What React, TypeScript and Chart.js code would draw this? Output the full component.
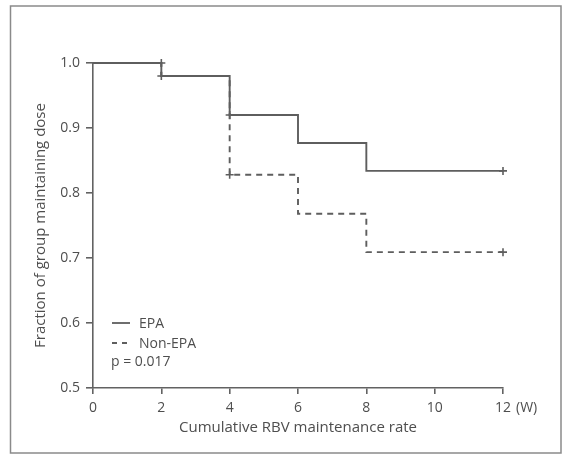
import React, { useEffect, useRef } from "react";
import { Chart, registerables } from "chart.js";

Chart.register(...registerables);

// ---- data ----
const weeks = [0, 2, 4, 6, 8, 12];
const epaValues = [1.0, 0.98, 0.92, 0.877, 0.834, 0.834];
const nonEpaValues = [1.0, 0.98, 0.828, 0.768, 0.709, 0.709];
const epaCensorWeeks = [2, 4, 12];
const epaCensorValues = [1.0, 0.92, 0.834];
const nonEpaCensorWeeks = [2, 4, 12];
const nonEpaCensorValues = [0.98, 0.828, 0.709];
const seriesLabels = ["EPA", "Non-EPA"];
const pValueText = "p = 0.017";
const xTitle = "Cumulative RBV maintenance rate";
const yTitle = "Fraction of group maintaining dose";
const xUnit = "(W)";

const FONT = "'Open Sans', 'Noto Sans', sans-serif";
const TEXT = "#4e4e4e";
const LINE = "#5e5e5e";
const AXIS = "#626262";

const pts = (xs: number[], ys: number[]) => xs.map((x, i) => ({ x, y: ys[i] }));

const extrasPlugin = {
  id: "extras",
  beforeDraw(chart: any) {
    const ctx = chart.ctx;
    ctx.save();
    ctx.fillStyle = "#ffffff";
    ctx.fillRect(0, 0, chart.width, chart.height);
    ctx.strokeStyle = "#8a8a8a";
    ctx.lineWidth = 1.5;
    ctx.strokeRect(10.5, 6, 550.5, 447);
    ctx.restore();
  },
  afterDraw(chart: any) {
    const ctx = chart.ctx;
    const xs = chart.scales.x;
    ctx.save();
    ctx.font = `14px ${FONT}`;
    ctx.fillStyle = TEXT;
    ctx.textBaseline = "middle";
    ctx.textAlign = "left";
    const px12 = xs.getPixelForValue(12);
    const w12 = ctx.measureText("12").width;
    ctx.fillText(xUnit, px12 + w12 / 2 + 5, 408);

    // legend
    const lx0 = 112;
    const lx1 = 130;
    const tx = 139;
    const rows = [323, 343];
    ctx.strokeStyle = LINE;
    ctx.lineWidth = 1.8;
    ctx.beginPath();
    ctx.setLineDash([]);
    ctx.moveTo(lx0, rows[0]);
    ctx.lineTo(lx1, rows[0]);
    ctx.stroke();
    ctx.beginPath();
    ctx.setLineDash([5, 5]);
    ctx.moveTo(lx0, rows[1]);
    ctx.lineTo(lx1 + 1, rows[1]);
    ctx.stroke();
    ctx.setLineDash([]);
    ctx.font = `14px ${FONT}`;
    ctx.fillStyle = TEXT;
    ctx.fillText(seriesLabels[0], tx, rows[0] + 1);
    ctx.fillText(seriesLabels[1], tx, rows[1] + 1);
    ctx.fillText(pValueText, 111, 362);
    ctx.restore();
  },
};

export default function App() {
  const ref = useRef<HTMLCanvasElement | null>(null);
  useEffect(() => {
    if (!ref.current) return;
    const chart = new Chart(ref.current, {
      type: "scatter",
      data: {
        datasets: [
          {
            label: seriesLabels[1],
            data: pts(weeks, nonEpaValues),
            showLine: true,
            stepped: true,
            borderColor: LINE,
            borderWidth: 1.9,
            borderDash: [6, 5],
            pointRadius: 0,
            clip: false,
          },
          {
            label: seriesLabels[0],
            data: pts(weeks, epaValues),
            showLine: true,
            stepped: true,
            borderColor: LINE,
            borderWidth: 1.9,
            pointRadius: 0,
            clip: false,
          },
          {
            label: "EPA censored",
            data: pts(epaCensorWeeks, epaCensorValues),
            showLine: false,
            pointStyle: "cross",
            pointRadius: 4,
            borderColor: LINE,
            borderWidth: 1.6,
            clip: false,
          },
          {
            label: "Non-EPA censored",
            data: pts(nonEpaCensorWeeks, nonEpaCensorValues),
            showLine: false,
            pointStyle: "cross",
            pointRadius: 4,
            borderColor: LINE,
            borderWidth: 1.6,
            clip: false,
          },
        ],
      },
      options: {
        responsive: false,
        animation: false,
        events: [],
        layout: { padding: { left: 0, top: 63, right: 61, bottom: 0 } },
        plugins: { legend: { display: false }, tooltip: { enabled: false } },
        scales: {
          x: {
            type: "linear",
            min: 0,
            max: 12,
            afterFit: (s: any) => {
              s.height = 67;
            },
            ticks: {
              stepSize: 2,
              padding: 6,
              color: TEXT,
              font: { family: FONT, size: 14 },
              callback: (v: any) => String(v),
            },
            grid: { drawOnChartArea: false, tickLength: 6, color: AXIS, lineWidth: 1.6 },
            border: { color: AXIS, width: 1.6 },
            title: {
              display: true,
              text: xTitle,
              color: TEXT,
              font: { family: FONT, size: 15 },
              padding: { top: 0, bottom: 18 },
            },
          },
          y: {
            min: 0.5,
            max: 1.0,
            afterFit: (s: any) => {
              s.width = 93;
            },
            ticks: {
              stepSize: 0.1,
              padding: 6,
              color: TEXT,
              font: { family: FONT, size: 14 },
              callback: (v: any) => Number(v).toFixed(1),
            },
            grid: { drawOnChartArea: false, tickLength: 7, color: AXIS, lineWidth: 1.6 },
            border: { color: AXIS, width: 1.6 },
            title: {
              display: true,
              text: yTitle,
              color: TEXT,
              font: { family: FONT, size: 15 },
              padding: { top: 32, bottom: 0 },
            },
          },
        },
      },
      plugins: [extrasPlugin],
    });
    return () => chart.destroy();
  }, []);
  return (
    <div style={{ position: "fixed", left: 0, top: 0, width: 564, height: 455 }}>
      <canvas ref={ref} width={564} height={455} style={{ width: 564, height: 455, display: "block" }} />
    </div>
  );
}
